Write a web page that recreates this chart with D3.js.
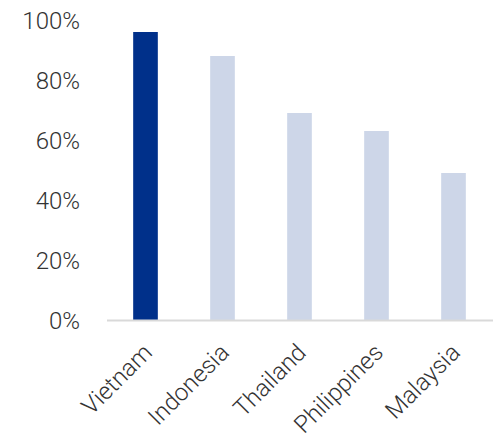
<html>
<head>
    <script src="https://d3js.org/d3.v7.min.js"></script>
    <style>
        body { margin: 0; background: #fff; }
        text { font-family: Roboto, "Noto Sans", sans-serif; font-weight: 300; fill: #333; }
    </style>
</head>
<body>
<div id="chart"></div>
<script type="text/javascript">

    // data
    var countries = ['Vietnam', 'Indonesia', 'Thailand', 'Philippines', 'Malaysia'];
    var shares = [96, 88, 69, 63, 49];
    var yTicks = [0, 20, 40, 60, 80, 100];
    var highlight = 'Vietnam';

    var width = 494, height = 438;
    var margin = {top: 20, right: 2, bottom: 118, left: 107};

    var svg = d3.select('#chart').append('svg')
        .attr('width', width)
        .attr('height', height);

    var x = d3.scaleBand()
        .domain(countries)
        .range([margin.left, width - margin.right])
        .paddingInner(0.68)
        .paddingOuter(0.34);

    var y = d3.scaleLinear()
        .domain([0, 100])
        .range([height - margin.bottom, margin.top]);

    // y tick labels, no axis line
    var yAxis = svg.append('g')
        .attr('transform', 'translate(' + (margin.left - 27) + ',0)')
        .call(d3.axisLeft(y).tickValues(yTicks).tickSize(0).tickPadding(0)
            .tickFormat(function(d) { return d + '%'; }));
    yAxis.select('.domain').remove();
    yAxis.selectAll('text')
        .attr('dy', '0.36em')
        .style('font-family', 'Roboto, "Noto Sans", sans-serif')
        .style('font-weight', 300)
        .style('font-size', '24px')
        .style('fill', '#333');

    var data = countries.map(function(c, i) { return {name: c, value: shares[i]}; });

    svg.selectAll('rect.bar')
        .data(data)
        .enter()
        .append('rect')
        .attr('class', 'bar')
        .attr('x', function(d) { return x(d.name); })
        .attr('width', x.bandwidth())
        .attr('y', function(d) { return y(d.value); })
        .attr('height', function(d) { return y(0) - y(d.value); })
        .attr('fill', function(d) { return d.name === highlight ? '#00308a' : '#cdd6e8'; });

    // baseline
    svg.append('line')
        .attr('x1', margin.left)
        .attr('x2', width - 1)
        .attr('y1', y(0) + 0.5)
        .attr('y2', y(0) + 0.5)
        .attr('stroke', '#d9d9d9')
        .attr('stroke-width', 2);

    // rotated category labels
    svg.selectAll('text.cat')
        .data(countries)
        .enter()
        .append('text')
        .attr('class', 'cat')
        .attr('text-anchor', 'end')
        .attr('transform', function(d) {
            var cx = x(d) + x.bandwidth() / 2 + 8;
            return 'translate(' + cx + ',' + (y(0) + 34) + ') rotate(-45)';
        })
        .style('font-size', '24px')
        .text(function(d) { return d; });

</script>
</body>
</html>
